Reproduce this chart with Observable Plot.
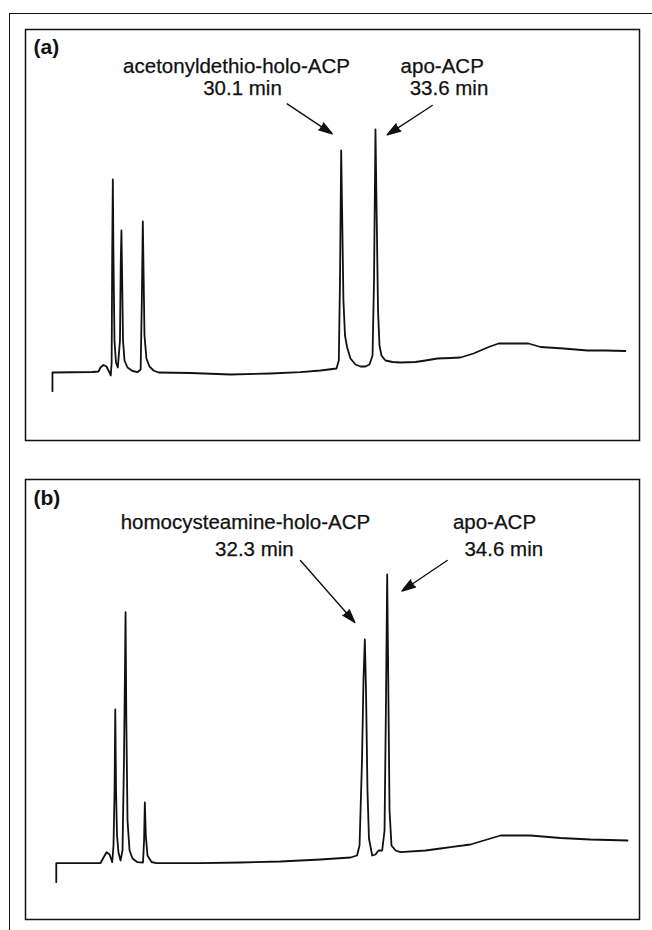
<!DOCTYPE html>
<html><head><meta charset="utf-8">
<script src="https://cdn.jsdelivr.net/npm/d3@7"></script>
<script src="https://cdn.jsdelivr.net/npm/@observablehq/plot@0.6"></script>
<style>
html,body{margin:0;padding:0;background:#fff;}
#fig{position:relative;width:652px;height:930px;overflow:hidden;background:#fff;}
#topline{position:absolute;left:9px;top:13px;width:643px;height:0;border-top:1.5px solid #111;z-index:3;}
#leftline{position:absolute;left:9px;top:13px;width:0;height:917px;border-left:1.5px solid #111;z-index:3;}
.panel{position:absolute;left:0;z-index:1;}
</style></head><body>
<div id="fig"><div id="topline"></div><div id="leftline"></div>
<div id="pa" class="panel" style="top:0px"></div>
<div id="pb" class="panel" style="top:460px"></div></div>
<script>
// Retention time (min) vs. relative absorbance (arbitrary units)
const traceA = [[0.64,-18.7],[0.64,0],[4.72,0.5],[5.34,1],[5.54,5],[5.85,7.5],[6.15,6],[6.46,0],[6.59,-3],[6.68,10],[6.74,122],[6.80,193],[6.87,112],[6.97,32],[7.12,10],[7.31,5],[7.53,32],[7.61,112],[7.68,142],[7.74,102],[7.84,32],[7.99,12],[8.30,5],[8.81,1.5],[9.32,0.3],[9.64,3],[9.76,72],[9.86,151],[9.95,92],[10.03,37],[10.23,14],[10.54,6],[10.95,2],[11.46,0],[14.72,-0.5],[18.81,-2],[22.89,-1],[25.95,0.3],[27.99,2],[29.62,4],[29.86,12],[29.98,92],[30.10,222],[30.21,152],[30.33,72],[30.49,37],[30.71,25],[31.05,14],[31.56,8],[32.07,6],[32.58,6],[32.99,8],[33.30,17],[33.45,92],[33.60,243],[33.73,152],[33.86,62],[34.01,27],[34.21,17],[34.62,12],[35.34,10.5],[36.15,10],[37.68,10.5],[38.70,12],[39.93,14],[41.26,14.5],[42.28,15],[43.60,19],[45.03,25],[46.15,29],[49.21,29],[50.44,25.5],[52.79,24],[55.23,22],[57.07,22],[59.10,21.5]];

const traceB = [[0.82,-19],[0.82,0],[5.34,0.2],[5.59,4.7],[5.95,11],[6.26,8.7],[6.53,1],[6.66,17.7],[6.77,72.7],[6.84,153.7],[6.92,72.7],[7.02,27.7],[7.17,10.7],[7.38,2.7],[7.58,12.7],[7.73,102.7],[7.82,182.7],[7.89,251],[7.97,142.7],[8.09,42.7],[8.30,12.7],[8.60,4.7],[9.11,1],[9.67,0.7],[9.78,22.7],[9.86,60.7],[9.96,27.7],[10.13,7.7],[10.54,1.2],[11.05,0],[15.54,0],[19.62,0.7],[23.70,1.7],[27.79,3.7],[30.85,5.7],[31.51,7.7],[31.77,17.7],[32.02,102.7],[32.17,182.7],[32.31,223.7],[32.43,172.7],[32.58,72.7],[32.73,24.7],[33.06,7.7],[33.40,8.7],[33.70,12.7],[34.08,12.7],[34.32,32.7],[34.47,162.7],[34.59,288.7],[34.70,182.7],[34.83,52.7],[35.03,17.7],[35.44,12.7],[35.95,11],[38.50,12.7],[40.03,14.7],[41.05,16],[43.09,18.7],[45.13,24.7],[46.15,27.7],[49.21,27.7],[52.27,25.2],[55.33,23.7],[59.11,22.7]];

const panelTitles = ["(a)", "(b)"];

const labelsA = [
  {label: "acetonyldethio-holo-ACP", t: 19.42, v: 300},
  {label: "30.1 min", t: 20.03, v: 278},
  {label: "apo-ACP", t: 40.41, v: 300},
  {label: "33.6 min", t: 41.10, v: 278}
];
const labelsB = [
  {label: "homocysteamine-holo-ACP", t: 20.13, v: 334.4},
  {label: "32.3 min", t: 21.04, v: 307.7},
  {label: "apo-ACP", t: 45.54, v: 334.4},
  {label: "34.6 min", t: 46.49, v: 307.7}
];
const arrowsA = [
  {x1: 24.59, y1: 268.7, x2: 29.18, y2: 238.7},
  {x1: 39.39, y1: 267.0, x2: 34.80, y2: 237.7}
];
const arrowsB = [
  {x1: 25.74, y1: 302.7, x2: 31.29, y2: 240.7},
  {x1: 40.71, y1: 302.7, x2: 36.10, y2: 272.2}
];

const FONT = "'Liberation Sans', Arial, Helvetica, sans-serif";
const INK = "#111";

function panel({trace, labels, arrows, title, height, marginTop, marginBottom, xDomain, yDomain, titleDy}) {
  const data = trace.map(([t, v]) => ({t, v}));
  return Plot.plot({
    width: 652, height, marginTop, marginBottom, marginLeft: 25, marginRight: 13,
    x: {domain: xDomain, axis: null},
    y: {domain: yDomain, axis: null},
    style: {background: "transparent"},
    marks: [
      Plot.frame({stroke: INK, strokeWidth: 1.5}),
      Plot.line(data, {x: "t", y: "v", stroke: INK, strokeWidth: 1.8, curve: "linear", strokeLinejoin: "round"}),
      Plot.arrow(arrows, {x1: "x1", y1: "y1", x2: "x2", y2: "y2", stroke: INK, fill: INK, strokeWidth: 1.4, headLength: 15, headAngle: 35}),
      Plot.text(labels, {x: "t", y: "v", text: "label", textAnchor: "middle", lineAnchor: "bottom", fontSize: 20.5, fontFamily: FONT, fill: INK, stroke: INK, strokeWidth: 0.25}),
      Plot.text([title], {frameAnchor: "top-left", dx: 8, dy: titleDy, lineAnchor: "top", textAnchor: "start", fontSize: 21, fontWeight: "bold", fontFamily: FONT, fill: INK})
    ]
  });
}

document.getElementById("pa").append(panel({
  trace: traceA, labels: labelsA, arrows: arrowsA, title: panelTitles[0],
  height: 460, marginTop: 29, marginBottom: 20,
  xDomain: [-2.11, 60.54], yDomain: [-68, 343], titleDy: 10
}));
document.getElementById("pb").append(panel({
  trace: traceB, labels: labelsB, arrows: arrowsB, title: panelTitles[1],
  height: 470, marginTop: 19, marginBottom: 11,
  xDomain: [-2.32, 60.34], yDomain: [-56.3, 383.7], titleDy: 11
}));
</script>
</body></html>
